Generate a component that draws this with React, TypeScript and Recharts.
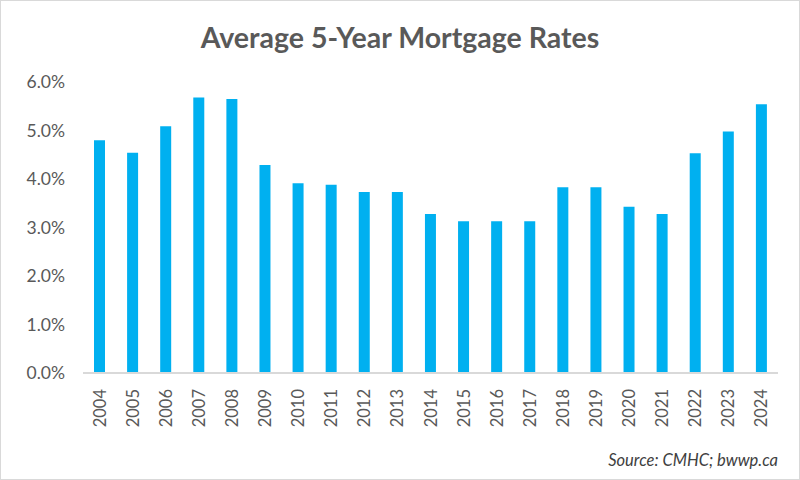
import React from 'react';
import { BarChart, Bar, XAxis, YAxis } from 'recharts';

// Average 5-year mortgage rate by year (%)
const years = [
  '2004', '2005', '2006', '2007', '2008', '2009', '2010', '2011', '2012', '2013', '2014',
  '2015', '2016', '2017', '2018', '2019', '2020', '2021', '2022', '2023', '2024',
];
const rates = [
  4.8, 4.54, 5.09, 5.68, 5.65, 4.29, 3.91, 3.88, 3.73, 3.73, 3.28,
  3.13, 3.13, 3.13, 3.83, 3.83, 3.43, 3.28, 4.53, 4.98, 5.54,
];
const yTicks = [0, 1, 2, 3, 4, 5, 6];

const data = years.map((year, i) => ({ year, rate: rates[i] }));

const FONT = 'Lato, "Open Sans", sans-serif';
const GREY = '#595959';

const YearTick = (props: any) => {
  const { x, y, payload } = props;
  return (
    <text
      transform={`translate(${x},${y + 14}) rotate(-90)`}
      textAnchor="end"
      dominantBaseline="central"
      fill={GREY}
      fontSize={16.5}
      fontFamily={FONT}
    >
      {payload.value}
    </text>
  );
};

const App: React.FC = () => {
  return (
    <div
      style={{
        position: 'fixed',
        left: 0,
        top: 0,
        width: 800,
        height: 480,
        background: '#fff',
        boxSizing: 'border-box',
        border: '1px solid #d9d9d9',
        fontFamily: FONT,
      }}
    >
      <div
        style={{
          position: 'absolute',
          top: 19,
          left: 0,
          width: '100%',
          textAlign: 'center',
          fontSize: 28.5,
          fontWeight: 700,
          color: GREY,
        }}
      >
        Average 5-Year Mortgage Rates
      </div>
      <div style={{ position: 'absolute', left: -1, top: -1 }}>
        <BarChart
          width={800}
          height={480}
          data={data}
          margin={{ top: 82, right: 22, left: 13, bottom: 20 }}
        >
          <XAxis
            dataKey="year"
            interval={0}
            tickLine={false}
            tickSize={0}
            height={87}
            axisLine={{ stroke: '#d9d9d9', strokeWidth: 2 }}
            tick={<YearTick />}
          />
          <YAxis
            width={70}
            domain={[0, 6]}
            ticks={yTicks}
            tickFormatter={(v: number) => `${v.toFixed(1)}%`}
            axisLine={false}
            tickLine={false}
            tickSize={0}
            tickMargin={18}
            tick={{ fill: GREY, fontSize: 17.5, fontFamily: FONT }}
          />
          <Bar dataKey="rate" fill="#00B0F0" barSize={11} isAnimationActive={false} />
        </BarChart>
      </div>
      <div
        style={{
          position: 'absolute',
          right: 21,
          top: 449,
          fontSize: 16.5,
          fontStyle: 'italic',
          color: '#404040',
        }}
      >
        Source: CMHC; bwwp.ca
      </div>
    </div>
  );
};

export default App;
